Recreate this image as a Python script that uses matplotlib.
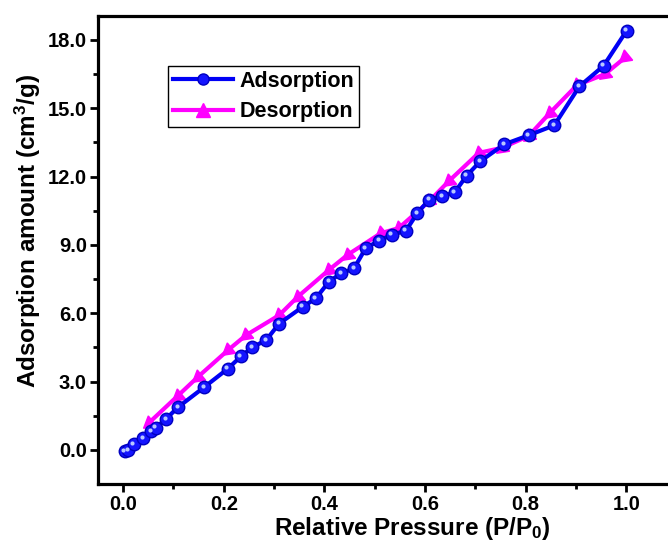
# BET-style adsorption / desorption isotherm

import matplotlib.pyplot as plt
import matplotlib.transforms as mtransforms
from matplotlib.lines import Line2D
import numpy as np

plt.rcParams['font.family'] = ['Liberation Sans', 'DejaVu Sans']
plt.rcParams['font.weight'] = 'bold'
plt.rcParams['mathtext.default'] = 'regular'

# Data
ads_p = np.array([0.003, 0.010, 0.021, 0.040, 0.056, 0.065, 0.085, 0.109, 0.161, 0.208,
                  0.234, 0.257, 0.284, 0.310, 0.357, 0.383, 0.409, 0.433, 0.459, 0.482,
                  0.509, 0.534, 0.562, 0.585, 0.608, 0.634, 0.659, 0.683, 0.710, 0.757,
                  0.806, 0.857, 0.907, 0.955, 1.001])
ads_q = np.array([-0.07, -0.02, 0.25, 0.52, 0.81, 0.98, 1.35, 1.87, 2.75, 3.56,
                  4.10, 4.51, 4.81, 5.54, 6.28, 6.65, 7.38, 7.75, 7.97, 8.85,
                  9.19, 9.44, 9.62, 10.40, 10.98, 11.13, 11.31, 12.04, 12.67, 13.41,
                  13.81, 14.25, 15.96, 16.86, 18.41])

des_p = np.array([0.998, 0.958, 0.902, 0.849, 0.806, 0.753, 0.707, 0.647, 0.608, 0.548,
                  0.512, 0.446, 0.409, 0.347, 0.310, 0.244, 0.208, 0.148, 0.109, 0.052])
des_q = np.array([17.23, 16.50, 16.01, 14.81, 13.78, 13.26, 13.04, 11.79, 10.91, 9.74,
                  9.51, 8.56, 7.90, 6.72, 5.91, 5.03, 4.37, 3.19, 2.38, 1.20])

x_ticks = [0.0, 0.2, 0.4, 0.6, 0.8, 1.0]
y_ticks = [0.0, 3.0, 6.0, 9.0, 12.0, 15.0, 18.0]

blue = '#0000f5'
magenta = '#ff00ff'

fig = plt.figure(figsize=(6.68, 5.5), dpi=100)
# the frame runs on past the right edge of the picture
ax = fig.add_axes([98/668, 66/550, 628.8/668, 468/550])

# desorption: triangles that point back along the curve
ax.plot(des_p, des_q, color=magenta, lw=3, marker=(3, 0, 129), markersize=11,
        markerfacecolor=magenta, markeredgecolor=magenta, zorder=2)

# adsorption: shaded spheres
ax.plot(ads_p, ads_q, color=blue, lw=3, marker='o', markersize=9,
        markerfacecolor='#1414ff', markeredgecolor='#0000c0', markeredgewidth=1, zorder=3)
shine = mtransforms.offset_copy(ax.transData, fig=fig, x=-1, y=1, units='points')
ax.plot(ads_p, ads_q, ls='none', marker='o', markersize=3, markeredgewidth=0,
        markerfacecolor='#b8c8ff', transform=shine, zorder=4)

ax.set_xlim(-0.05, 1.2)
ax.set_ylim(-1.5, 19.05)
ax.set_xticks(x_ticks)
ax.set_xticklabels([f'{v:.1f}' for v in x_ticks])
ax.set_yticks(y_ticks)
ax.set_yticklabels([f'{v:.1f}' for v in y_ticks])
ax.set_xticks(np.arange(0.1, 1.0, 0.2), minor=True)
ax.set_yticks(np.arange(1.5, 18.0, 3.0), minor=True)

for s in ax.spines.values():
    s.set_linewidth(2.3)
ax.tick_params(which='major', direction='out', length=6, width=2, labelsize=14.5, pad=2)
ax.tick_params(which='minor', direction='out', length=3.5, width=2)

ax.set_xlabel('Relative Pressure (P/P$_{0}$)', fontsize=17.5, fontweight='bold', labelpad=1)
ax.set_ylabel('Adsorption amount (cm$^{3}$/g)', fontsize=17.5, fontweight='bold')
ax.yaxis.set_label_coords(-0.0875, 0.54)

handles = [
    Line2D([], [], color=blue, lw=3, marker='o', markersize=8, markerfacecolor='#1414ff',
           markeredgecolor='#0000c0'),
    Line2D([], [], color=magenta, lw=3, marker='^', markersize=10),
]
leg = ax.legend(handles, ['Adsorption', 'Desorption'], loc='upper left',
                bbox_to_anchor=(70/628.8, 0.893), borderaxespad=0, fancybox=False,
                edgecolor='black', framealpha=1, handlelength=2.8, handletextpad=0.3,
                labelspacing=0.45, borderpad=0.22, prop={'size': 15.5, 'weight': 'bold'})
leg.get_frame().set_linewidth(1)

fig.savefig('out.png', dpi=100)
